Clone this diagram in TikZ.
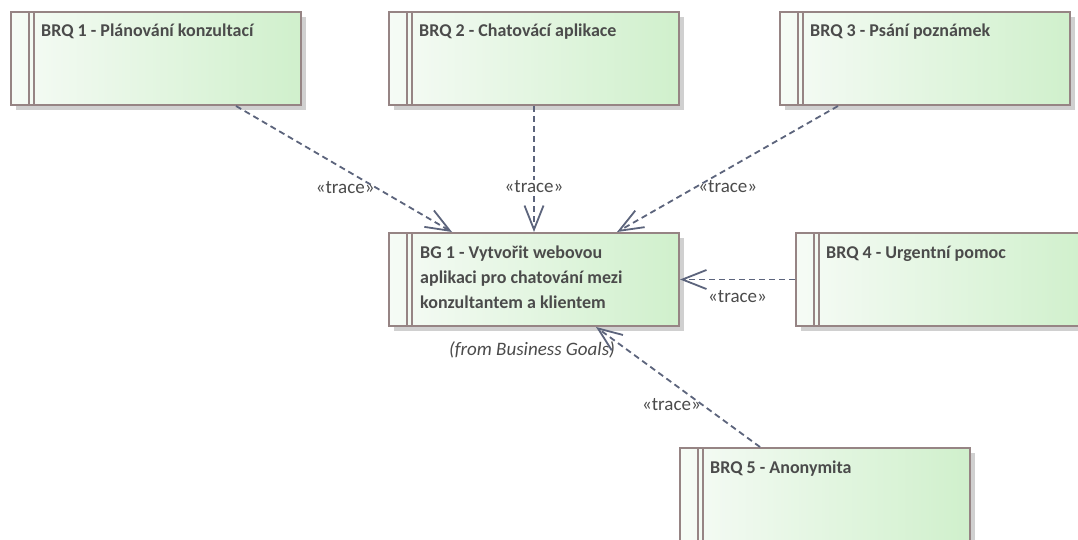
\documentclass[tikz,border=0pt]{standalone}
\usepackage{fontspec}
\setmainfont{Carlito}
\usetikzlibrary{arrows.meta,shadows}
\definecolor{edgebrown}{RGB}{150,132,132}
\definecolor{reqgreen}{RGB}{208,240,204}
\definecolor{reqwhite}{RGB}{246,251,246}
\definecolor{tracecol}{RGB}{92,100,124}
\definecolor{txtgrey}{RGB}{75,75,75}
\definecolor{shadowgrey}{RGB}{208,208,208}
\tikzset{
  reqbox/.style={draw=edgebrown, line width=2pt, rectangle,
    minimum width=290pt, minimum height=93pt, anchor=north west,
    left color=reqwhite, right color=reqgreen, inner sep=0pt,
    drop shadow={shadow xshift=5pt, shadow yshift=-5pt, fill=shadowgrey, opacity=1},
    path picture={
      \draw[edgebrown, line width=1.6pt]
        ([xshift=18pt]path picture bounding box.north west) --
        ([xshift=18pt]path picture bounding box.south west);
      \draw[edgebrown, line width=1.6pt]
        ([xshift=23pt]path picture bounding box.north west) --
        ([xshift=23pt]path picture bounding box.south west);
    }},
  reqtitle/.style={anchor=base west, inner sep=0pt, text=txtgrey,
    font=\fontsize{18}{25}\selectfont\bfseries, align=left},
  trace/.style={draw=tracecol, line width=1.8pt, dash pattern=on 6pt off 4pt,
    -{Straight Barb[length=24pt, width=19pt, line width=1.8pt]}},
  tracelabel/.style={text=txtgrey, font=\fontsize{19}{22}\selectfont, inner sep=1pt},
}
\begin{document}
\begin{tikzpicture}[x=1pt, y=-1pt]
\useasboundingbox (0,0) rectangle (1078,540);
\clip (0,0) rectangle (1078,540);
\fill[white] (0,0) rectangle (1078,540);

% requirement boxes
\node[reqbox] (b1) at (10,11) {};
\node[reqbox] (b2) at (388,11) {};
\node[reqbox] (b3) at (779,11) {};
\node[reqbox] (g)  at (388,232) {};
\node[reqbox] (b4) at (795,232) {};
\node[reqbox] (b5) at (679,447) {};

% titles (a multi-line node sits on the baseline of its last line)
\node[reqtitle] (t1) at ([xshift=31pt,yshift=-26pt]b1.north west) {BRQ 1 - Plánování konzultací};
\node[reqtitle] (t2) at ([xshift=31pt,yshift=-26pt]b2.north west) {BRQ 2 - Chatovácí aplikace};
\node[reqtitle] (t3) at ([xshift=31pt,yshift=-26pt]b3.north west) {BRQ 3 - Psání poznámek};
\node[reqtitle] (tg) at ([xshift=32pt,yshift=-76pt]g.north west)
  {BG 1 - Vytvořit webovou\\aplikaci pro chatování mezi\\konzultantem a klientem};
\node[reqtitle] (t4) at ([xshift=31pt,yshift=-26pt]b4.north west) {BRQ 4 - Urgentní pomoc};
\node[reqtitle] (t5) at ([xshift=31pt,yshift=-26pt]b5.north west) {BRQ 5 - Anonymita};

\node[text=txtgrey, font=\fontsize{19}{22}\selectfont\itshape, anchor=north, inner sep=0pt]
  (from) at ([xshift=-2pt,yshift=-14pt]g.south) {(from Business Goals)};

% trace dependencies
\draw[trace] ([xshift=226pt]b1.south west) --
  node[tracelabel, pos=0.65, anchor=east] (l1) {«trace»} ([xshift=64pt]g.north west);
\draw[trace] (b2.south) --
  node[tracelabel, pos=0.64, fill=white] (l2) {«trace»} (g.north);
\draw[trace] ([xshift=59pt]b3.south west) --
  node[tracelabel, pos=0.64, anchor=west] (l3) {«trace»} ([xshift=229pt]g.north west);
\draw[trace] (b4.west) --
  node[tracelabel, pos=0.5, anchor=north, yshift=-9pt] (l4) {«trace»} (g.east);
\draw[trace] ([xshift=81pt]b5.north west) --
  node[tracelabel, pos=0.35, anchor=east] (l5) {«trace»} ([xshift=208pt]g.south west);
\end{tikzpicture}
\end{document}
